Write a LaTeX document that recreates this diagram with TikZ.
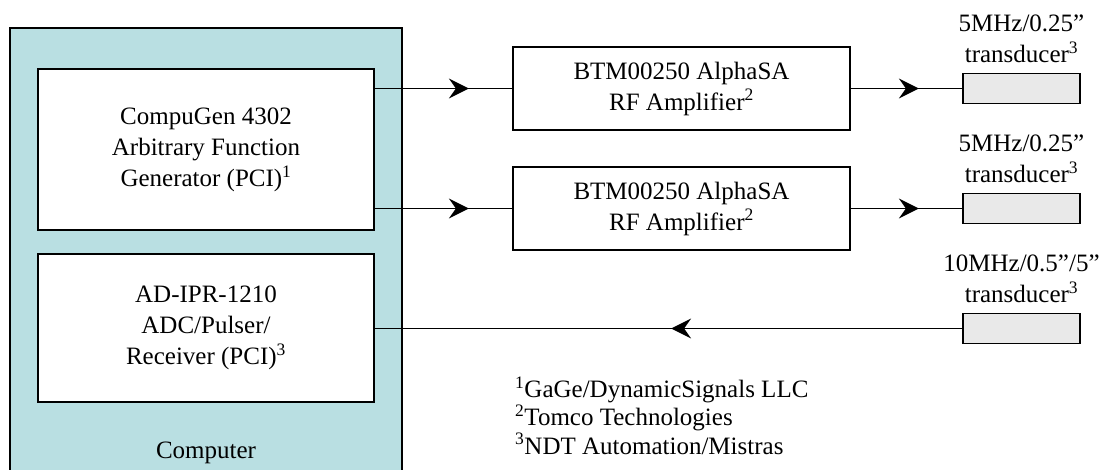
\documentclass[tikz,border=0pt]{standalone}
\usepackage{fontspec}
\setmainfont{Liberation Serif}
\usetikzlibrary{arrows.meta,decorations.markings}
\definecolor{compfill}{RGB}{185,223,226}
\definecolor{transfill}{RGB}{233,233,233}
\begin{document}
\begin{tikzpicture}[x=1pt,y=-1pt,
  txt/.style={font=\fontsize{25}{31}\selectfont,inner sep=0pt},
  box/.style={txt,draw,line width=1.8pt,fill=white,align=center},
  transbox/.style={draw,line width=1.8pt,fill=transfill,minimum width=117pt,minimum height=30pt,inner sep=0pt},
  conn/.style={line width=1.8pt},
  arrowat/.style={postaction={decorate},decoration={markings,mark=at position #1 with {\arrow{Stealth[length=20pt,width=20pt,inset=7pt]}}}}]
\useasboundingbox (0,0) rectangle (1104,470);
\clip (0,0) rectangle (1104,470);
% computer
\node[draw,line width=1.8pt,fill=compfill,minimum width=392pt,minimum height=452pt,inner sep=0pt] (computer) at (206,254) {};
\node[txt,anchor=base] (complabel) at (206,458) {Computer};
% inner boxes
\node[box,minimum width=336pt,minimum height=161pt] (gen) at (206,149.5) {CompuGen 4302\\Arbitrary Function\\Generator (PCI)\textsuperscript{1}};
\node[box,minimum width=336pt,minimum height=148pt] (adc) at (206,328) {AD-IPR-1210\\ADC/Pulser/\\Receiver (PCI)\textsuperscript{3}};
% amplifiers
\node[box,minimum width=337pt,minimum height=83pt] (amp1) at (681.5,88.5) {BTM00250 AlphaSA\\RF Amplifier\textsuperscript{2}};
\node[box,minimum width=337pt,minimum height=83pt] (amp2) at (681.5,208.5) {BTM00250 AlphaSA\\RF Amplifier\textsuperscript{2}};
% transducers
\node[transbox] (t1) at (1021.5,88.5) {};
\node[transbox] (t2) at (1021.5,208.5) {};
\node[transbox] (t3) at (1021.5,328.5) {};
\node[txt,align=center,anchor=south] (l1) at ([yshift=10pt]t1.north) {5MHz/0.25”\\transducer\textsuperscript{3}};
\node[txt,align=center,anchor=south] (l2) at ([yshift=10pt]t2.north) {5MHz/0.25”\\transducer\textsuperscript{3}};
\node[txt,align=center,anchor=south] (l3) at ([yshift=10pt]t3.north) {10MHz/0.5”/5”\\transducer\textsuperscript{3}};
% connectors
\draw[conn,arrowat=94pt] (gen.east |- amp1.west) -- (amp1.west);
\draw[conn,arrowat=94pt] (gen.east |- amp2.west) -- (amp2.west);
\draw[conn,arrowat=68pt] (amp1.east) -- (t1.west);
\draw[conn,arrowat=68pt] (amp2.east) -- (t2.west);
\draw[conn,arrowat=291pt] (t3.west) -- (adc.east |- t3.west);
% footnotes
\node[txt,anchor=base west] (fn1) at (515,398) {\textsuperscript{1}GaGe/DynamicSignals LLC};
\node[txt,anchor=base west] (fn2) at (515,426) {\textsuperscript{2}Tomco Technologies};
\node[txt,anchor=base west] (fn3) at (515,454) {\textsuperscript{3}NDT Automation/Mistras};
\end{tikzpicture}
\end{document}
